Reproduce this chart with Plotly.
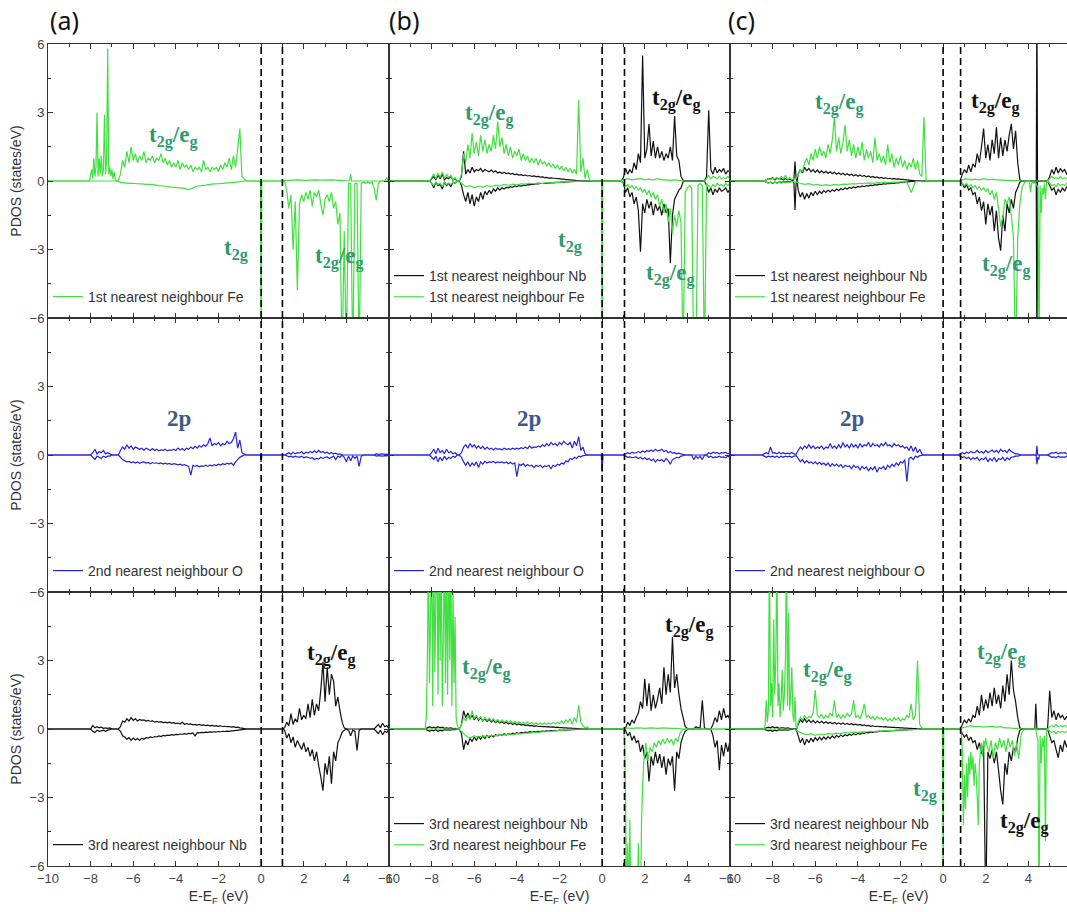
import plotly.graph_objects as go
from plotly.subplots import make_subplots

XMIN, XMAX = -10.0, 6.0

# ---------------- data: (start energy eV, step eV, PDOS values) ----------------
# (a) row 1 : 1st nearest neighbour Fe
a1_fe_up = [
    (-8.0, 0.05, [0.3, 0.5, 0.1, 1.0, 0.2, 0.6, 3.0, 0.2, 1.0, 0.3, 1.1, 0.2, 0.5, 2.9, 0.3, 0.9, 5.8, 0.3, 0.6, 0.2, 0.5, 0.1, 0.4, 0.1]),
    (-6.6, 0.1, [0.3, 0.9, 0.6, 1.3, 0.8, 1.5, 0.9, 1.2, 0.8, 1.1, 0.9, 1.3, 0.8, 1.0, 0.9, 1.1, 0.8, 1.0, 0.9, 1.2,
                 0.8, 1.0, 0.7, 0.9, 0.6, 0.8, 0.6, 0.9, 0.5, 0.8, 0.6, 0.7, 0.5, 0.7, 0.4, 0.6, 0.5, 0.6, 0.4, 0.9,
                 0.5, 0.6, 0.4, 0.6, 0.5, 0.6, 0.4, 0.7, 0.5, 0.8, 0.6, 1.0, 0.5, 1.1, 0.6, 1.4, 2.3, 0.2, 0.1]),
    (1.3, 0.4, [0.03, 0.05, 0.03, 0.05, 0.04, 0.05, 0.03]),
    (4.2, 0.05, [0.3]),
    (5.85, 0.05, [0.1, 0.15]),
]
a1_fe_dn = [
    (-6.6, 0.2, [-0.05, -0.08, -0.1, -0.1, -0.12, -0.13, -0.15, -0.15, -0.17, -0.2, -0.22, -0.25, -0.27, -0.28, -0.3,
                 -0.32, -0.38, -0.3, -0.22, -0.2, -0.18, -0.15, -0.13, -0.12, -0.1, -0.08, -0.07, -0.05, -0.03]),
    (0.0, 0.03, [-8]),
    (1.2, 0.1, [-0.4, -1.2, -0.6, -3.0, -0.9, -4.8, -1.0, -0.6, -0.9, -0.5, -0.8, -0.4, -1.1, -0.5, -0.7, -0.4, -1.0, -1.5,
                -0.8, -0.6, -0.9, -0.5, -1.2, -0.9, -1.9, -1.4, -8, -2.2, -8, -0.1, -0.1, -8, -0.1, -0.1, -8, -0.1, -0.05,
                -0.1, -0.05, -0.1, -0.05, -0.3, -0.85, -0.1]),
]
# (a) row 2 : 2nd nearest neighbour O
a2_o_up = [
    (-7.9, 0.1, [0.1, 0.25, 0.05, 0.15, 0.1, 0.2, 0.05, 0.1, 0.05]),
    (-6.6, 0.1, [0.2, 0.35, 0.25, 0.45, 0.3, 0.4, 0.25, 0.35, 0.3, 0.25, 0.3, 0.2, 0.3, 0.25, 0.2, 0.28, 0.2, 0.25, 0.18, 0.22,
                 0.2, 0.25, 0.18, 0.22, 0.2, 0.25, 0.2, 0.3, 0.22, 0.28, 0.2, 0.3, 0.25, 0.35, 0.28, 0.38, 0.3, 0.4, 0.35, 0.45,
                 0.38, 0.5, 0.75, 0.4, 0.5, 0.45, 0.55, 0.4, 0.5, 0.45, 0.6, 0.5, 0.55, 0.7, 1.0, 0.3, 0.65, 0.1, 0.05]),
    (1.2, 0.1, [0.05, 0.1, 0.03, 0.12, 0.05, 0.1, 0.08, 0.15, 0.05, 0.12, 0.08, 0.15, 0.1, 0.18, 0.1, 0.2, 0.12, 0.15, 0.08,
                0.12, 0.05, 0.1, 0.05, 0.08, 0.03, 0.05]),
    (5.4, 0.1, [0.05, 0.03, 0.04, 0.05, 0.03, 0.04]),
]
a2_o_dn = [
    (-7.9, 0.1, [-0.1, -0.2, -0.05, -0.1, -0.15, -0.05, -0.1, -0.05, -0.05]),
    (-6.6, 0.1, [-0.1, -0.2, -0.25, -0.3, -0.28, -0.33, -0.3, -0.35, -0.3, -0.36, -0.32, -0.3, -0.35, -0.32, -0.38, -0.33,
                 -0.36, -0.34, -0.38, -0.35, -0.4, -0.36, -0.4, -0.37, -0.42, -0.38, -0.4, -0.43, -0.4, -0.45, -0.42, -0.46,
                 -0.5, -0.88, -0.45, -0.5, -0.46, -0.52, -0.48, -0.5, -0.45, -0.5, -0.44, -0.48, -0.42, -0.46, -0.4, -0.44,
                 -0.38, -0.42, -0.36, -0.4, -0.35, -0.45, -0.3, -0.2, -0.1, -0.05]),
    (0.0, 0.04, [-0.3]),
    (1.2, 0.1, [-0.03, -0.08, -0.05, -0.1, -0.05, -0.08, -0.1, -0.05, -0.12, -0.08, -0.1, -0.15, -0.12, -0.2, -0.15, -0.18,
                -0.1, -0.15, -0.1, -0.08, -0.15, -0.1, -0.05, -0.2, -0.05, -0.1]),
    (3.9, 0.1, [-0.1, -0.3, -0.05, -0.25, -0.05, -0.15, -0.05, -0.5, -0.05]),
    (5.4, 0.1, [-0.05, -0.03, -0.04, -0.05, -0.03, -0.04]),
]
# (a) row 3 : 3rd nearest neighbour Nb
a3_nb_up = [
    (-7.9, 0.1, [0.15, 0.05, 0.1, 0.05, 0.08, 0.03, 0.05, 0.03, 0.05]),
    (-6.6, 0.1, [0.1, 0.35, 0.3, 0.45, 0.35, 0.5, 0.38, 0.45, 0.35, 0.42, 0.38, 0.4, 0.35, 0.38, 0.33, 0.36, 0.3, 0.33, 0.3,
                 0.32, 0.28, 0.3, 0.27, 0.3, 0.26, 0.28, 0.24, 0.26, 0.22, 0.3, 0.2, 0.24, 0.2, 0.22, 0.18, 0.2, 0.17, 0.2,
                 0.16, 0.18, 0.15, 0.17, 0.14, 0.16, 0.13, 0.15, 0.12, 0.14, 0.11, 0.12, 0.1, 0.11, 0.08, 0.1, 0.07, 0.08,
                 0.05, 0.04, 0.02]),
    (1.1, 0.1, [0.05, 0.3, 0.15, 0.67, 0.2, 0.45, 0.3, 0.9, 0.4, 0.6, 0.45, 1.1, 0.5, 1.3, 0.6, 1.1, 0.8, 1.7, 2.94, 1.2,
                2.7, 1.5, 2.4, 2.1, 1.0, 1.4, 0.8, 0.3, 0.05]),
    (5.4, 0.1, [0.1, 0.2, 0.05, 0.25, 0.1, 0.15]),
]
a3_nb_dn = [
    (-7.9, 0.1, [-0.1, -0.15, -0.05, -0.1, -0.08, -0.05, -0.1, -0.05, -0.03]),
    (-6.6, 0.1, [-0.1, -0.3, -0.35, -0.45, -0.38, -0.5, -0.4, -0.48, -0.42, -0.5, -0.4, -0.45, -0.38, -0.4, -0.35, -0.38,
                 -0.33, -0.35, -0.3, -0.33, -0.28, -0.3, -0.27, -0.28, -0.25, -0.27, -0.24, -0.25, -0.22, -0.23, -0.2,
                 -0.22, -0.19, -0.2, -0.17, -0.3, -0.16, -0.17, -0.15, -0.16, -0.14, -0.15, -0.13, -0.14, -0.12, -0.13,
                 -0.11, -0.12, -0.1, -0.11, -0.09, -0.1, -0.08, -0.08, -0.06, -0.06, -0.04, -0.03, -0.02]),
    (1.1, 0.1, [-0.05, -0.4, -0.2, -0.6, -0.35, -0.8, -0.5, -0.7, -0.9, -0.6, -1.0, -0.8, -1.2, -0.9, -1.4, -1.0, -1.6, -2.1,
                -2.7, -1.5, -2.0, -1.2, -2.4, -1.0, -1.4, -0.6, -0.4, -0.15, -0.05]),
    (4.1, 0.1, [-0.05, -0.3, -0.05, -0.1, -0.94, -0.05]),
    (5.4, 0.1, [-0.1, -0.2, -0.05, -0.25, -0.1, -0.15]),
]
# (b) row 1 : 1st nearest neighbours Nb and Fe
b1_nb_up = [
    (-8.0, 0.1, [0.1, 0.2, 0.05, 0.25, 0.1, 0.3, 0.05, 0.15, 0.1, 0.2, 0.05, 0.1]),
    (-6.6, 0.1, [0.2, 1.3, 0.3, 0.5, 0.35, 0.6, 0.4, 0.5, 0.45, 0.55, 0.4, 0.5, 0.45, 0.4, 0.48, 0.38, 0.45, 0.35, 0.4, 0.33,
                 0.38, 0.32, 0.35, 0.3, 0.33, 0.28, 0.3, 0.26, 0.28, 0.24, 0.26, 0.22, 0.24, 0.2, 0.22, 0.19, 0.2, 0.17,
                 0.18, 0.15, 0.16, 0.13, 0.14, 0.12, 0.12, 0.1, 0.1, 0.08, 0.08, 0.06, 0.06, 0.05, 0.04, 0.03, 0.02]),
    (1.0, 0.1, [0.15, 0.55, 0.3, 0.5, 0.35, 0.8, 0.5, 1.2, 0.8, 5.5, 1.0, 1.4, 2.5, 1.1, 1.75, 1.0, 1.5, 1.0, 1.3, 0.9,
                1.2, 1.0, 1.5, 0.9, 2.85, 1.1, 0.9, 0.2, 0.03]),
    (4.9, 0.1, [0.2, 3.1, 0.5, 0.3, 0.6, 0.35, 0.5, 0.4, 0.55, 0.3, 0.45, 0.4]),
]
b1_nb_dn = [
    (-8.0, 0.1, [-0.1, -0.3, -0.05, -0.2, -0.15, -0.35, -0.05, -0.2, -0.1, -0.25, -0.05, -0.1]),
    (-6.6, 0.1, [-0.2, -0.6, -0.9, -0.5, -1.0, -0.6, -1.1, -0.7, -0.9, -0.5, -0.8, -0.45, -0.6, -0.4, -0.55, -0.35, -0.45,
                 -0.3, -0.4, -0.3, -0.35, -0.28, -0.3, -0.25, -0.28, -0.22, -0.25, -0.2, -0.22, -0.18, -0.2, -0.16, -0.17,
                 -0.14, -0.15, -0.12, -0.13, -0.11, -0.11, -0.1, -0.1, -0.09, -0.08, -0.08, -0.07, -0.06, -0.06, -0.05,
                 -0.05, -0.04, -0.04, -0.03, -0.03, -0.02, -0.02]),
    (1.0, 0.1, [-0.1, -0.5, -0.3, -0.7, -0.5, -1.0, -0.7, -1.3, -3.1, -1.0, -1.4, -0.8, -1.2, -0.9, -1.5, -1.0, -1.3, -1.1,
                -1.5, -1.0, -1.4, -1.2, -3.6, -1.5, -0.8, -0.6, -0.4, -0.3, -0.03]),
    (4.9, 0.1, [-0.2, -0.5, -0.3, -0.6, -0.35, -0.5, -0.3, -0.45, -0.4, -0.3, -0.5, -0.35]),
]
b1_fe_up = [
    (-8.0, 0.1, [0.15, 0.3, 0.1, 0.35, 0.15, 0.4, 0.1, 0.3, 0.15, 0.25, 0.05, 0.15]),
    (-6.6, 0.1, [0.3, 1.2, 0.8, 1.6, 1.0, 2.1, 1.2, 1.7, 1.1, 2.0, 1.3, 1.8, 1.2, 1.6, 1.3, 2.0, 1.4, 2.6, 1.5, 1.9,
                 1.2, 1.6, 1.1, 1.5, 1.0, 1.3, 1.1, 1.4, 0.9, 1.2, 0.9, 1.1, 0.8, 1.0, 0.8, 1.0, 0.7, 0.95, 0.75, 0.85,
                 0.65, 0.8, 0.6, 0.75, 0.55, 0.7, 0.5, 0.65, 0.45, 0.6, 0.4, 0.55, 0.35, 0.5, 0.3, 3.55, 0.4, 1.0, 0.1,
                 0.5, 0.05]),
    (1.0, 0.2, [0.05, 0.1, 0.05, 0.08, 0.1, 0.05, 0.08, 0.05, 0.1, 0.05, 0.05, 0.03, 0.05, 0.03]),
    (4.9, 0.1, [0.1, 0.25, 0.1, 0.2, 0.15, 0.1, 0.2, 0.1, 0.15, 0.1, 0.2, 0.1]),
]
b1_fe_dn = [
    (-8.0, 0.1, [-0.1, -0.2, -0.05, -0.15, -0.1, -0.25, -0.05, -0.15, -0.1, -0.15, -0.05, -0.1]),
    (-6.6, 0.2, [-0.1, -0.25, -0.2, -0.3, -0.22, -0.28, -0.2, -0.25, -0.18, -0.22, -0.15, -0.2, -0.14, -0.17, -0.12,
                 -0.14, -0.1, -0.12, -0.08, -0.1, -0.07, -0.08, -0.05, -0.06, -0.04, -0.03, -0.02, -0.02, -0.01]),
    (0.0, 0.03, [-8]),
    (1.0, 0.1, [-0.1, -0.25, -0.15, -0.3, -0.2, -0.35, -0.25, -0.4, -0.3, -0.5, -0.35, -0.6, -0.4, -0.7, -0.5, -0.8, -0.6,
                -1.1, -0.8, -1.4, -1.0, -1.8, -1.2, -2.3, -1.5, -2.0, -1.3, -1.8, -8, -0.5, -0.3, -0.2, -0.3, -8, -8,
                -0.2, -0.1, -0.2, -8, -0.1, -0.2, -0.3, -0.15, -0.25, -0.1, -0.2, -0.15, -0.25, -0.1, -0.2, -0.1]),
]
# (b) row 2 : 2nd nearest neighbour O
b2_o_up = [
    (-8.0, 0.1, [0.1, 0.25, 0.05, 0.3, 0.1, 0.2, 0.05, 0.25, 0.1, 0.15, 0.05, 0.1]),
    (-6.6, 0.1, [0.1, 0.35, 0.45, 0.3, 0.5, 0.35, 0.45, 0.3, 0.4, 0.28, 0.38, 0.25, 0.35, 0.25, 0.3, 0.22, 0.3, 0.25, 0.28,
                 0.22, 0.3, 0.25, 0.28, 0.24, 0.3, 0.25, 0.3, 0.26, 0.32, 0.28, 0.35, 0.28, 0.4, 0.3, 0.35, 0.32, 0.4,
                 0.35, 0.45, 0.38, 0.5, 0.4, 0.55, 0.45, 0.5, 0.4, 0.55, 0.45, 0.6, 0.5, 0.45, 0.55, 0.3, 0.6, 0.4, 0.8,
                 0.2, 0.35, 0.05]),
    (1.1, 0.1, [0.05, 0.1, 0.05, 0.12, 0.08, 0.1, 0.15, 0.1, 0.18, 0.12, 0.2, 0.15, 0.22, 0.15, 0.25, 0.18, 0.2, 0.25, 0.15,
                0.2, 0.1, 0.15, 0.08, 0.1, 0.05, 0.08, 0.05, 0.03]),
    (5.0, 0.1, [0.1, 0.05, 0.12, 0.08, 0.1, 0.05, 0.1, 0.08, 0.12, 0.05, 0.1]),
]
b2_o_dn = [
    (-8.0, 0.1, [-0.1, -0.2, -0.05, -0.3, -0.1, -0.25, -0.05, -0.2, -0.1, -0.15, -0.05, -0.1]),
    (-6.6, 0.1, [-0.1, -0.3, -0.45, -0.3, -0.5, -0.35, -0.45, -0.3, -0.55, -0.3, -0.4, -0.28, -0.35, -0.3, -0.32, -0.28,
                 -0.35, -0.3, -0.33, -0.3, -0.35, -0.3, -0.38, -0.32, -0.4, -0.35, -0.95, -0.4, -0.45, -0.38, -0.5, -0.42,
                 -0.48, -0.45, -0.55, -0.45, -0.5, -0.45, -0.55, -0.48, -0.5, -0.45, -0.6, -0.45, -0.5, -0.4, -0.45,
                 -0.35, -0.4, -0.25, -0.3, -0.15, -0.2, -0.1, -0.15, -0.05, -0.08, -0.03, -0.02]),
    (0.0, 0.04, [-0.75]),
    (1.1, 0.1, [-0.05, -0.1, -0.08, -0.12, -0.1, -0.08, -0.15, -0.1, -0.18, -0.12, -0.2, -0.15, -0.25, -0.18, -0.3, -0.2,
                -0.25, -0.2, -0.3, -0.15, -0.25, -0.4, -0.2, -0.15, -0.1, -0.12, -0.05, -0.03]),
    (4.3, 0.1, [-0.2, -0.05, -0.15, -0.05, -0.2]),
    (5.0, 0.1, [-0.1, -0.05, -0.12, -0.08, -0.1, -0.05, -0.1, -0.08, -0.12, -0.05, -0.1]),
]
# (b) row 3 : 3rd nearest neighbours Nb and Fe
b3_nb_up = [
    (-8.2, 0.1, [0.05, 0.1, 0.05, 0.08, 0.03, 0.1, 0.05, 0.08, 0.03, 0.05, 0.03, 0.05, 0.02, 0.03]),
    (-6.6, 0.1, [0.2, 0.8, 0.5, 0.7, 0.45, 0.6, 0.4, 0.55, 0.38, 0.5, 0.35, 0.45, 0.33, 0.42, 0.3, 0.38, 0.28, 0.35, 0.26,
                 0.32, 0.24, 0.3, 0.22, 0.27, 0.2, 0.25, 0.18, 0.22, 0.17, 0.2, 0.15, 0.18, 0.14, 0.16, 0.12, 0.14, 0.11,
                 0.12, 0.1, 0.11, 0.09, 0.1, 0.08, 0.09, 0.07, 0.08, 0.06, 0.06, 0.05, 0.05, 0.04, 0.04, 0.03, 0.03,
                 0.02, 0.02, 0.01]),
    (1.1, 0.1, [0.05, 0.3, 0.15, 0.4, 0.25, 0.5, 0.7, 1.2, 0.9, 2.2, 1.0, 2.0, 0.8, 1.5, 0.9, 1.3, 1.8, 1.1, 2.7, 1.5,
                2.4, 1.6, 4.04, 1.8, 2.4, 1.55, 0.9, 0.5, 0.1, 0.02]),
    (4.4, 0.1, [0.1, 0.05, 0.05, 1.26, 0.05]),
    (5.2, 0.1, [0.2, 0.5, 0.3, 0.8, 0.4, 0.9, 0.5, 0.6, 0.4]),
]
b3_nb_dn = [
    (-8.2, 0.1, [-0.05, -0.1, -0.05, -0.08, -0.03, -0.1, -0.05, -0.08, -0.03, -0.05, -0.03, -0.05, -0.02, -0.03]),
    (-6.6, 0.1, [-0.2, -0.9, -0.5, -0.7, -0.4, -0.55, -0.35, -0.5, -0.33, -0.45, -0.3, -0.42, -0.28, -0.38, -0.27, -0.35,
                 -0.25, -0.3, -0.23, -0.28, -0.21, -0.26, -0.2, -0.24, -0.18, -0.22, -0.16, -0.2, -0.15, -0.18, -0.14,
                 -0.16, -0.12, -0.14, -0.11, -0.12, -0.1, -0.11, -0.09, -0.1, -0.08, -0.09, -0.07, -0.08, -0.06, -0.07,
                 -0.05, -0.06, -0.05, -0.05, -0.04, -0.04, -0.03, -0.03, -0.02, -0.02, -0.01]),
    (1.1, 0.1, [-0.05, -0.3, -0.15, -0.5, -0.3, -0.6, -0.5, -1.0, -0.7, -1.3, -1.0, -2.3, -1.2, -1.6, -1.0, -1.5, -1.1,
                -1.7, -1.2, -2.0, -1.3, -1.6, -1.2, -2.7, -1.0, -1.3, -0.6, -0.3, -0.1, -0.02]),
    (5.2, 0.1, [-0.3, -0.8, -0.5, -1.8, -0.7, -1.2, -0.6, -1.0, -0.5]),
]
b3_fe_up = [
    (-8.25, 0.05, [0.5, 3.0, 8, 2.0, 5.0, 8, 1.0, 8, 2.5, 6.0, 8, 1.5, 8, 3.0, 8, 1.0, 4.0, 8, 2.0, 8,
                   1.5, 8, 3.0, 8, 1.0, 6.0, 2.0, 4.9, 0.5, 0.2]),
    (-6.6, 0.1, [0.2, 0.5, 0.35, 0.6, 0.4, 0.8, 0.45, 0.6, 0.4, 0.55, 0.35, 0.5, 0.38, 0.48, 0.35, 0.45, 0.32, 0.42, 0.3,
                 0.4, 0.3, 0.38, 0.28, 0.36, 0.26, 0.34, 0.25, 0.32, 0.24, 0.3, 0.22, 0.3, 0.22, 0.28, 0.2, 0.27, 0.2,
                 0.26, 0.2, 0.26, 0.2, 0.27, 0.21, 0.28, 0.22, 0.3, 0.24, 0.35, 0.25, 0.4, 0.3, 0.45, 0.2, 0.5, 0.3,
                 1.04, 0.3, 0.15, 0.05, 0.1]),
    (1.1, 0.3, [0.05, 0.03, 0.05, 0.03, 0.05, 0.03, 0.05, 0.03, 0.03]),
]
b3_fe_dn = [
    (-6.6, 0.2, [-0.1, -0.3, -0.4, -0.3, -0.35, -0.3, -0.32, -0.28, -0.3, -0.25, -0.27, -0.22, -0.24, -0.2, -0.21, -0.18,
                 -0.18, -0.15, -0.15, -0.12, -0.12, -0.1, -0.08, -0.06, -0.05, -0.03, -0.02, -0.01]),
    (1.05, 0.05, [-0.5, -3, -8, -5, -8, -4, -8, -8, -6, -8, -7, -8, -8, -5, -8, -8, -4, -2.5, -1.5, -1.0]),
    (2.05, 0.1, [-0.6, -1.4, -0.8, -1.0, -0.6, -0.8, -0.5, -0.7, -0.45, -0.65, -0.4, -0.6, -0.45, -0.7, -0.4, -0.55,
                 -0.2, -0.05]),
]
# (c) row 1 : 1st nearest neighbours Nb and Fe
c1_nb_up = [
    (-8.3, 0.1, [0.05, 0.1, 0.08, 0.15, 0.05, 0.12, 0.08, 0.1, 0.05, 0.1, 0.05, 0.08, 0.03]),
    (-7.0, 0.05, [0.1, 0.85, 0.1]),
    (-6.8, 0.1, [0.3, 0.5, 0.35, 0.6, 0.45, 0.55, 0.4, 0.5, 0.38, 0.48, 0.36, 0.45, 0.35, 0.42, 0.33, 0.4, 0.32, 0.38,
                 0.3, 0.36, 0.28, 0.34, 0.26, 0.32, 0.25, 0.3, 0.23, 0.28, 0.21, 0.26, 0.2, 0.24, 0.18, 0.22, 0.16, 0.2,
                 0.15, 0.18, 0.13, 0.16, 0.12, 0.14, 0.1, 0.12, 0.09, 0.1, 0.08, 0.09, 0.07, 0.07, 0.06, 0.05, 0.04,
                 0.03, 0.02]),
    (0.9, 0.1, [0.3, 0.5, 0.35, 0.7, 0.4, 0.75, 0.6, 1.2, 0.8, 1.5, 2.3, 1.0, 1.6, 0.9, 1.8, 1.2, 2.35, 1.0, 1.9, 1.1,
                1.8, 1.3, 2.0, 2.5, 1.4, 2.2, 0.8, 0.05]),
    (4.4, 0.03, [8]),
    (5.0, 0.1, [0.2, 0.5, 0.3, 0.6, 0.35, 0.55, 0.4, 0.5, 0.3, 0.45]),
]
c1_nb_dn = [
    (-8.3, 0.1, [-0.05, -0.08, -0.05, -0.1, -0.05, -0.08, -0.05, -0.06, -0.04, -0.05, -0.03, -0.04, -0.02]),
    (-7.0, 0.05, [-0.1, -1.27, -0.1]),
    (-6.8, 0.1, [-0.4, -0.7, -0.5, -0.8, -0.55, -0.75, -0.5, -0.65, -0.45, -0.6, -0.45, -0.55, -0.42, -0.5, -0.4, -0.48,
                 -0.38, -0.45, -0.35, -0.42, -0.33, -0.38, -0.3, -0.35, -0.28, -0.32, -0.26, -0.3, -0.24, -0.27, -0.22,
                 -0.25, -0.2, -0.22, -0.18, -0.2, -0.16, -0.18, -0.14, -0.16, -0.12, -0.14, -0.11, -0.12, -0.09, -0.1,
                 -0.08, -0.08, -0.06, -0.06, -0.05, -0.04, -0.03, -0.02, -0.02]),
    (0.9, 0.1, [-0.1, -0.3, -0.15, -0.4, -0.3, -0.6, -0.5, -1.0, -0.7, -1.3, -0.9, -1.9, -1.0, -1.5, -1.1, -2.2, -1.3,
                -2.5, -3.05, -1.5, -2.2, -1.0, -1.4, -0.8, -1.2, -0.5, -0.3, -0.05]),
    (4.4, 0.03, [-8]),
    (5.0, 0.1, [-0.2, -0.4, -0.3, -0.6, -0.35, -0.5, -0.3, -0.45, -0.25, -0.4]),
]
c1_fe_up = [
    (-8.3, 0.1, [0.05, 0.1, 0.05, 0.12, 0.08, 0.15, 0.05, 0.2, 0.1, 0.25, 0.05, 0.15, 0.05, 0.1]),
    (-6.9, 0.1, [0.1, 0.3, 0.5, 0.4, 0.8, 1.0, 0.7, 1.2, 0.9, 1.4, 1.0, 1.5, 1.1, 1.3, 1.0, 1.6, 1.2, 1.8, 2.8, 1.3,
                 1.9, 1.2, 1.7, 2.45, 1.3, 1.8, 1.1, 1.6, 1.0, 1.5, 1.1, 1.7, 0.9, 1.4, 1.0, 1.3, 0.8, 1.9, 0.9, 1.2,
                 0.8, 1.1, 0.7, 1.6, 0.8, 1.2, 0.6, 1.0, 0.7, 1.1, 0.6, 0.9, 0.5, 0.8, 0.6, 1.0, 0.5, 0.9, 0.3, 0.2,
                 2.8, 0.05]),
    (0.9, 0.2, [0.05, 0.1, 0.05, 0.08, 0.05, 0.1, 0.05, 0.08, 0.05, 0.05, 0.03, 0.03, 0.02, 0.02]),
    (5.0, 0.1, [0.1, 0.2, 0.1, 0.15, 0.1, 0.2, 0.1, 0.15, 0.1, 0.1]),
]
c1_fe_dn = [
    (-8.3, 0.1, [-0.05, -0.1, -0.05, -0.08, -0.05, -0.1, -0.05, -0.1, -0.05, -0.08, -0.05, -0.05, -0.03, -0.03]),
    (-6.9, 0.2, [-0.05, -0.1, -0.15, -0.12, -0.18, -0.15, -0.2, -0.16, -0.2, -0.15, -0.18, -0.14, -0.15, -0.12, -0.13,
                 -0.1, -0.12, -0.08, -0.1, -0.07, -0.08, -0.06, -0.07, -0.05, -0.05, -0.04, -0.04, -0.5, -0.03, -0.02]),
    (0.9, 0.1, [-0.1, -0.2, -0.1, -0.25, -0.15, -0.3, -0.2, -0.35, -0.25, -0.4, -0.3, -0.45, -0.35, -0.6, -0.4, -0.8,
                -0.5, -1.2, -2.0, -1.6, -0.8, -1.0, -0.7, -1.5, -2.5, -8, -2.5, -1.0, -0.3, -0.1]),
    (4.1, 0.05, [-0.5, -0.1, -0.05, -0.1, -0.05, -0.1, -0.2, -0.3, -8, -0.2, -1.4, -0.3, -0.6, -0.1, -0.8, -0.1]),
    (5.0, 0.1, [-0.1, -0.2, -0.15, -0.25, -0.1, -0.2, -0.15, -0.2, -0.1, -0.15]),
]
# (c) row 2 : 2nd nearest neighbour O
c2_o_up = [
    (-8.4, 0.1, [0.05, 0.1, 0.05, 0.35, 0.08, 0.1, 0.05, 0.12, 0.05, 0.1, 0.05, 0.08, 0.05, 0.1, 0.05, 0.03]),
    (-6.8, 0.1, [0.2, 0.35, 0.25, 0.4, 0.3, 0.45, 0.3, 0.4, 0.28, 0.35, 0.3, 0.4, 0.25, 0.35, 0.3, 0.5, 0.3, 0.4, 0.28,
                 0.45, 0.3, 0.55, 0.35, 0.45, 0.3, 0.5, 0.35, 0.45, 0.3, 0.5, 0.35, 0.45, 0.4, 0.55, 0.35, 0.5, 0.4,
                 0.45, 0.35, 0.5, 0.4, 0.55, 0.4, 0.45, 0.35, 0.5, 0.4, 0.45, 0.35, 0.4, 0.3, 0.35, 0.2, 0.4, 0.15,
                 0.35, 0.1, 0.25, 0.05]),
    (0.8, 0.1, [0.05, 0.1, 0.05, 0.12, 0.08, 0.15, 0.1, 0.12, 0.2, 0.1, 0.15, 0.08, 0.2, 0.1, 0.15, 0.22, 0.12, 0.2, 0.1,
                0.25, 0.15, 0.2, 0.1, 0.25, 0.15, 0.1, 0.05, 0.05, 0.02]),
    (4.4, 0.04, [0.4]),
    (5.0, 0.1, [0.05, 0.1, 0.08, 0.12, 0.05, 0.1, 0.08, 0.1, 0.05, 0.08]),
]
c2_o_dn = [
    (-8.4, 0.1, [-0.05, -0.1, -0.05, -0.08, -0.05, -0.1, -0.05, -0.12, -0.05, -0.1, -0.05, -0.08, -0.05, -0.1, -0.05, -0.03]),
    (-6.8, 0.1, [-0.15, -0.3, -0.2, -0.35, -0.25, -0.35, -0.3, -0.38, -0.3, -0.4, -0.32, -0.42, -0.35, -0.45, -0.35, -0.5,
                 -0.38, -0.48, -0.4, -0.5, -0.42, -0.55, -0.45, -0.5, -0.48, -0.6, -0.45, -0.55, -0.5, -0.65, -0.5, -0.6,
                 -0.52, -0.7, -0.55, -0.65, -0.5, -0.75, -0.55, -0.6, -0.5, -0.65, -0.45, -0.55, -0.4, -0.5, -0.35,
                 -0.45, -0.3, -0.35, -0.2, -1.17, -0.15, -0.1, -0.2, -0.05, -0.1, -0.03, -0.02]),
    (0.8, 0.1, [-0.05, -0.1, -0.08, -0.15, -0.1, -0.2, -0.12, -0.18, -0.1, -0.25, -0.15, -0.2, -0.1, -0.3, -0.15, -0.25,
                -0.1, -0.3, -0.15, -0.2, -0.1, -0.25, -0.12, -0.2, -0.1, -0.08, -0.05, -0.05, -0.02]),
    (4.4, 0.04, [-0.4, -0.1, -0.2]),
    (5.0, 0.1, [-0.05, -0.1, -0.08, -0.12, -0.05, -0.1, -0.08, -0.1, -0.05, -0.08]),
]
# (c) row 3 : 3rd nearest neighbours Nb and Fe
c3_nb_up = [
    (-8.3, 0.1, [0.05, 0.08, 0.05, 0.1, 0.05, 0.08, 0.03, 0.05, 0.05, 0.03, 0.05, 0.03, 0.02]),
    (-6.8, 0.1, [0.2, 0.4, 0.3, 0.45, 0.3, 0.4, 0.28, 0.38, 0.27, 0.35, 0.26, 0.34, 0.25, 0.32, 0.24, 0.3, 0.23, 0.29,
                 0.22, 0.27, 0.21, 0.26, 0.2, 0.24, 0.19, 0.23, 0.18, 0.21, 0.17, 0.2, 0.15, 0.18, 0.14, 0.16, 0.12,
                 0.14, 0.11, 0.12, 0.1, 0.11, 0.09, 0.1, 0.08, 0.08, 0.07, 0.07, 0.06, 0.06, 0.05, 0.05, 0.04, 0.04,
                 0.03, 0.03, 0.02, 0.02]),
    (0.9, 0.1, [0.2, 0.4, 0.25, 0.45, 0.3, 0.6, 0.5, 1.0, 0.6, 1.5, 0.8, 1.3, 0.9, 1.6, 1.0, 1.8, 1.1, 1.5, 0.9, 1.9,
                1.2, 2.4, 1.5, 3.0, 1.7, 1.2, 0.5, 0.05]),
    (4.35, 0.05, [1.1]),
    (5.0, 0.1, [1.67, 0.5, 0.8, 0.4, 0.7, 0.5, 0.6, 0.4, 0.55, 0.35]),
]
c3_nb_dn = [
    (-8.3, 0.1, [-0.05, -0.08, -0.05, -0.1, -0.05, -0.08, -0.03, -0.05, -0.05, -0.03, -0.05, -0.03, -0.02]),
    (-6.8, 0.1, [-0.3, -0.6, -0.4, -0.7, -0.45, -0.6, -0.4, -0.55, -0.38, -0.5, -0.36, -0.48, -0.35, -0.45, -0.33, -0.42,
                 -0.3, -0.4, -0.28, -0.36, -0.26, -0.33, -0.25, -0.3, -0.23, -0.28, -0.21, -0.25, -0.19, -0.22, -0.17,
                 -0.2, -0.15, -0.17, -0.13, -0.15, -0.12, -0.13, -0.1, -0.11, -0.09, -0.1, -0.08, -0.08, -0.07, -0.07,
                 -0.06, -0.06, -0.05, -0.05, -0.04, -0.04, -0.03, -0.03, -0.02, -0.02]),
    (0.9, 0.1, [-0.2, -0.35, -0.25, -0.5, -0.35, -0.6, -0.5, -0.9, -0.6, -1.1, -0.7, -8, -1.0, -1.3, -0.9, -1.5, -1.0,
                -1.8, -2.7, -3.3, -1.5, -2.0, -1.0, -1.4, -0.8, -1.0, -0.4, -0.05]),
    (5.0, 0.1, [-0.3, -0.6, -0.5, -0.9, -1.26, -0.7, -1.0, -0.5, -0.8, -0.4]),
]
c3_fe_up = [
    (-8.35, 0.05, [0.2, 1.26, 0.3, 0.8, 8, 1.0, 2.0, 0.5, 4.8, 1.5, 3.0, 8, 1.0, 2.0, 0.5, 1.2, 2.6, 0.8, 1.5, 3.0,
                   8, 1.0, 5.1, 0.8, 1.5, 2.7, 0.6, 0.3, 1.4, 0.1]),
    (-6.8, 0.1, [0.3, 0.5, 0.4, 0.6, 0.45, 0.55, 0.5, 0.7, 1.7, 0.6, 0.5, 0.65, 0.45, 0.6, 0.5, 0.7, 0.55, 1.26, 0.5,
                 0.65, 0.45, 0.6, 0.5, 0.7, 0.55, 0.65, 1.26, 0.5, 0.6, 0.45, 0.7, 1.1, 0.5, 0.6, 0.45, 0.55, 0.4, 0.55,
                 0.45, 0.5, 0.4, 0.5, 0.35, 0.45, 0.35, 0.5, 0.4, 0.5, 0.35, 0.45, 0.4, 0.6, 0.5, 1.1, 0.4, 0.6, 3.0,
                 0.2, 0.05]),
    (0.9, 0.2, [0.05, 0.1, 0.15, 0.1, 0.12, 0.08, 0.1, 0.12, 0.08, 0.1, 0.05, 0.05, 0.03, 0.02]),
    (5.0, 0.1, [0.1, 0.15, 0.1, 0.2, 0.1, 0.15, 0.1, 0.15, 0.1, 0.1]),
]
c3_fe_dn = [
    (-6.8, 0.2, [-0.1, -0.2, -0.25, -0.2, -0.28, -0.22, -0.25, -0.2, -0.22, -0.18, -0.2, -0.16, -0.18, -0.14, -0.15,
                 -0.12, -0.13, -0.1, -0.11, -0.08, -0.09, -0.07, -0.07, -0.05, -0.05, -0.04, -0.03, -0.03, -0.02]),
    (0.0, 0.03, [-8]),
    (0.9, 0.05, [-1.0, -4.2, -2.0, -3.5, -1.5, -3.0, -1.2, -2.0, -1.0, -1.8, -1.2, -2.5, -1.5, -2.0, -3.0, -4.2, -1.5,
                 -1.0, -0.6, -1.2, -0.5, -0.8, -0.4]),
    (2.05, 0.1, [-0.7, -1.0, -0.5, -1.3, -0.6, -0.9, -0.4, -0.8, -0.5, -1.0, -0.4, -0.8, -0.5, -1.2, -0.6, -1.3, -0.3,
                 -0.05]),
    (4.4, 0.05, [-0.3, -0.5, -8, -0.3, -1.5, -0.4, -0.8, -0.3, -4.9, -0.1]),
    (5.0, 0.1, [-0.1, -0.15, -0.1, -0.2, -0.1, -0.15, -0.1, -0.15, -0.1, -0.1]),
]

# band-edge guide positions (eV) for each column
gap_edges = [[0.0, 1.0], [0.0, 1.05], [0.0, 0.82]]

# tick labels
x_ticks = [-10, -8, -6, -4, -2, 0, 2, 4, 6]
y_ticks_top = [-6, -3, 0, 3, 6]
y_ticks_low = [-6, -3, 0, 3]

GREEN, BLUE, BLACK = "#3fe03f", "#2424dc", "#111111"
T_GREEN, T_BLACK, T_BLUE = "#2e9c6c", "#111111", "#3d5b8c"

# panel contents: (row, col, [(legend name, colour, up, down), ...])
panels = [
    (1, 1, [("1st nearest neighbour Fe", GREEN, a1_fe_up, a1_fe_dn)]),
    (1, 2, [("1st nearest neighbour Nb", BLACK, b1_nb_up, b1_nb_dn),
            ("1st nearest neighbour Fe", GREEN, b1_fe_up, b1_fe_dn)]),
    (1, 3, [("1st nearest neighbour Nb", BLACK, c1_nb_up, c1_nb_dn),
            ("1st nearest neighbour Fe", GREEN, c1_fe_up, c1_fe_dn)]),
    (2, 1, [("2nd nearest neighbour O", BLUE, a2_o_up, a2_o_dn)]),
    (2, 2, [("2nd nearest neighbour O", BLUE, b2_o_up, b2_o_dn)]),
    (2, 3, [("2nd nearest neighbour O", BLUE, c2_o_up, c2_o_dn)]),
    (3, 1, [("3rd nearest neighbour Nb", BLACK, a3_nb_up, a3_nb_dn)]),
    (3, 2, [("3rd nearest neighbour Nb", BLACK, b3_nb_up, b3_nb_dn),
            ("3rd nearest neighbour Fe", GREEN, b3_fe_up, b3_fe_dn)]),
    (3, 3, [("3rd nearest neighbour Nb", BLACK, c3_nb_up, c3_nb_dn),
            ("3rd nearest neighbour Fe", GREEN, c3_fe_up, c3_fe_dn)]),
]

TG = "<b>t<sub>2g</sub>/e<sub>g</sub></b>"
T2 = "<b>t<sub>2g</sub></b>"
P2 = "<b>2p</b>"
labels = [
    (1, TG, -4.13, 1.93, T_GREEN), (1, T2, -1.17, -2.98, T_GREEN), (1, TG, 3.66, -3.33, T_GREEN),
    (2, TG, -5.3, 2.9, T_GREEN), (2, TG, 3.47, 3.55, T_BLACK), (2, T2, -1.5, -2.63, T_GREEN), (2, TG, 3.19, -4.1, T_GREEN),
    (3, TG, -4.88, 3.38, T_GREEN), (3, TG, 2.44, 3.46, T_BLACK), (3, TG, 2.96, -3.68, T_GREEN),
    (4, P2, -3.85, 1.58, T_BLUE), (5, P2, -3.43, 1.58, T_BLUE), (6, P2, -4.27, 1.58, T_BLUE),
    (7, TG, 3.29, 3.25, T_BLACK),
    (8, TG, -5.45, 2.63, T_GREEN), (8, TG, 4.08, 4.47, T_BLACK),
    (9, TG, -5.45, 2.54, T_GREEN), (9, TG, 2.72, 3.29, T_GREEN), (9, T2, -0.85, -2.68, T_GREEN), (9, TG, 3.8, -4.08, T_BLACK),
]
panel_tags = ["(a)", "(b)", "(c)"]


def expand(segs):
    xs, ys = [XMIN], [0.0]
    pend = None
    for x0, dx, vals in segs:
        if pend is not None and pend < x0 - 1e-9:
            xs.append(round(pend, 4)); ys.append(0.0)
        lead = x0 - dx
        if lead > xs[-1] + 1e-9:
            xs.append(round(lead, 4)); ys.append(0.0)
        for i, v in enumerate(vals):
            xs.append(round(x0 + i * dx, 4)); ys.append(v)
        pend = x0 + len(vals) * dx
    if pend is not None and pend < XMAX:
        xs.append(round(pend, 4)); ys.append(0.0)
    xs.append(XMAX); ys.append(0.0)
    return xs, ys


W, H = 1067, 912
ML, MR, MT, MB = 48, 0, 44, 46
PW, PH = W - ML - MR, H - MT - MB
col_px = [341, 341, 337]

fig = make_subplots(rows=3, cols=3, column_widths=col_px, horizontal_spacing=0, vertical_spacing=0)

for k, (r, c, species) in enumerate(panels, start=1):
    lname = "legend" if k == 1 else f"legend{k}"
    for name, colr, up, dn in species:
        xu, yu = expand(up)
        xd, yd = expand(dn)
        fig.add_trace(go.Scatter(x=xu + [None] + xd, y=yu + [None] + yd, mode="lines", name=name,
                                 line=dict(color=colr, width=1.2, simplify=False), legend=lname, showlegend=True,
                                 connectgaps=False, hoverinfo="skip"), row=r, col=c)
    left_px = sum(col_px[:c - 1])
    bottom_px = PH - r * PH / 3
    fig.update_layout({lname: dict(x=left_px / PW, y=(bottom_px + 5) / PH, xanchor="left", yanchor="bottom",
                                   bgcolor="rgba(0,0,0,0)", borderwidth=0, tracegroupgap=0,
                                   font=dict(family="Liberation Sans", size=14, color="#333333"))})
    xr = f"x{k}" if k > 1 else "x"
    yr = f"y{k}" if k > 1 else "y"
    for g in gap_edges[c - 1]:
        fig.add_shape(type="line", x0=g, x1=g, y0=0, y1=1, xref=xr, yref=f"{yr} domain",
                      line=dict(color="black", width=1.6, dash="7px,4px"))

axis_font = dict(family="Liberation Sans", size=13, color="#444444")
for r in range(1, 4):
    for c in range(1, 4):
        xmax = 6.0 if c < 3 else -10 + col_px[2] * 16.0 / col_px[0]
        xa = dict(range=[-10, xmax], tickmode="array", tickvals=x_ticks,
                  ticktext=[str(v).replace("-", "\u2212") for v in x_ticks],
                  showticklabels=(r == 3), ticks="inside", ticklen=5, tickwidth=1, tickcolor="#333333",
                  minor=dict(ticks="inside", tickmode="linear", tick0=-10, dtick=1, ticklen=3, tickcolor="#333333"),
                  showline=True, linecolor="#333333", linewidth=1, mirror="ticks",
                  showgrid=False, zeroline=False, tickfont=axis_font, automargin=False)
        if r == 3:
            xa["title"] = dict(text="E-E<sub>F</sub> (eV)", font=dict(family="Liberation Sans", size=14, color="#333333"),
                               standoff=6)
        fig.update_xaxes(row=r, col=c, **xa)
        yt = y_ticks_top if r == 1 else y_ticks_low
        ya = dict(range=[-6, 6], tickmode="array", tickvals=yt,
                  ticktext=[str(v).replace("-", "\u2212") for v in yt],
                  showticklabels=(c == 1), ticks="inside", ticklen=5, tickwidth=1, tickcolor="#333333",
                  minor=dict(ticks="inside", tickmode="linear", tick0=0, dtick=1.5, ticklen=3, tickcolor="#333333"),
                  showline=True, linecolor="#333333", linewidth=1, mirror=("ticks" if c < 3 else False),
                  showgrid=False, zeroline=False, tickfont=axis_font, automargin=False)
        if c == 1:
            ya["title"] = dict(text="PDOS (states/eV)", font=dict(family="Liberation Sans", size=14, color="#333333"),
                               standoff=4)
        fig.update_yaxes(row=r, col=c, **ya)

for k, text, x, y, colr in labels:
    xr = f"x{k}" if k > 1 else "x"
    yr = f"y{k}" if k > 1 else "y"
    fig.add_annotation(text=text, x=x, y=y, xref=xr, yref=yr, showarrow=False, xanchor="center", yanchor="middle",
                       font=dict(family="Liberation Serif, Times New Roman, serif", size=23, color=colr))

tag_px = [64, 404, 741]
for t, px in zip(panel_tags, tag_px):
    fig.add_annotation(text=t, x=(px - ML) / PW, y=(H - MB - 20) / PH, xref="paper", yref="paper",
                       xanchor="center", yanchor="middle", showarrow=False,
                       font=dict(family="Noto Sans", size=25, color="#111111"))

fig.update_layout(width=W, height=H, margin=dict(l=ML, r=MR, t=MT, b=MB, autoexpand=False),
                  paper_bgcolor="white", plot_bgcolor="white", showlegend=True)

fig.write_html("out.html")
